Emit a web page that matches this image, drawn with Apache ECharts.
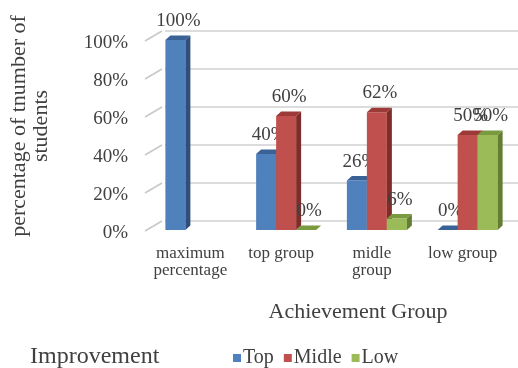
<!DOCTYPE html>
<html>
<head>
<meta charset="utf-8">
<script src="https://cdn.jsdelivr.net/npm/echarts@6/dist/echarts.min.js"></script>
<style>
  html, body { margin: 0; padding: 0; background: #fff; }
  #chart { width: 518px; height: 368px; }
</style>
</head>
<body>
<div id="chart"></div>
<script>
const categories = ["maximum\npercentage", "top group", "midle\ngroup", "low group"];
const topValues = [100, 40, 26, 0];
const midleValues = [null, 60, 62, 50];
const lowValues = [null, 0, 6, 50];
const yTicks = [0, 20, 40, 60, 80, 100];
const seriesNames = ["Top", "Midle", "Low"];

const FONT = "Liberation Serif";
const TEXT = "#404040";
// front, top, side shades for each series
const shades = [
  { front: "#4f81bd", top: "#3a6296", side: "#2f4f7a" },
  { front: "#c0504d", top: "#9c3a37", side: "#7f2d2b" },
  { front: "#9bbb59", top: "#7a9a3f", side: "#637d33" }
];
const BAR_W = 20;
const DEPTH_X = 5;
const DEPTH_Y = 4.5;

const chart = echarts.init(document.getElementById("chart"));

function toData(values) {
  return values.map((v, i) => [i, v == null ? "-" : v]);
}

function renderBar(params, api) {
  const v = api.value(1);
  if (isNaN(v)) return;
  const k = params.seriesIndex;
  const c = shades[k];
  const base = api.coord([api.value(0), 0]);
  const top = api.coord([api.value(0), v]);
  const x0 = base[0] - 1.5 * BAR_W + k * BAR_W;
  const x1 = x0 + BAR_W;
  const yb = base[1];
  const yt = top[1];
  const children = [];
  if (yb - yt > 0.5) {
    children.push({
      type: "rect",
      shape: { x: x0, y: yt, width: BAR_W, height: yb - yt },
      style: { fill: c.front }
    });
    children.push({
      type: "polygon",
      shape: { points: [[x1, yt], [x1 + DEPTH_X, yt - DEPTH_Y], [x1 + DEPTH_X, yb - DEPTH_Y], [x1, yb]] },
      style: { fill: c.side }
    });
  }
  children.push({
    type: "polygon",
    shape: { points: [[x0, yt], [x0 + DEPTH_X, yt - DEPTH_Y], [x1 + DEPTH_X, yt - DEPTH_Y], [x1, yt]] },
    style: { fill: c.top }
  });
  children.push({
    type: "text",
    style: {
      text: v + "%",
      x: (x0 + x1) / 2 + 3,
      y: yt - DEPTH_Y - 5,
      align: "center",
      verticalAlign: "bottom",
      font: "19px '" + FONT + "'",
      fill: TEXT
    }
  });
  return { type: "group", children: children };
}

function renderWallTick(params, api) {
  const p = api.coord([0, api.value(1)]);
  const x = params.coordSys.x;
  return {
    type: "line",
    shape: { x1: x - 5, y1: p[1] + 1, x2: x + 12, y2: p[1] - 9 },
    style: { stroke: "#c8c8c8", lineWidth: 1.5 }
  };
}

const barSeries = [topValues, midleValues, lowValues].map((vals, k) => ({
  name: seriesNames[k],
  type: "custom",
  xAxisIndex: 0,
  yAxisIndex: 0,
  renderItem: renderBar,
  encode: { x: 0, y: 1 },
  itemStyle: { color: shades[k].front },
  data: toData(vals),
  z: 5 + k,
  clip: false
}));

const option = {
  animation: false,
  textStyle: { fontFamily: FONT, color: TEXT },
  title: {
    text: "Improvement",
    left: 30,
    top: 345,
    padding: 0,
    textStyle: { fontFamily: FONT, fontSize: 24, fontWeight: "normal", color: TEXT }
  },
  legend: {
    data: seriesNames,
    left: 233,
    top: 348,
    padding: 0,
    icon: "rect",
    itemWidth: 8,
    itemHeight: 8,
    itemGap: 10,
    textStyle: { fontFamily: FONT, fontSize: 20, color: TEXT, padding: [0, 0, 0, -3] }
  },
  grid: [
    { left: 150, right: 5, top: 40, bottom: 138 },
    { left: 162, right: 0, top: 31, bottom: 147 }
  ],
  xAxis: [
    {
      type: "category",
      gridIndex: 0,
      data: categories,
      axisLine: { show: false },
      axisTick: { show: false },
      axisLabel: {
        interval: 0,
        margin: 15,
        fontFamily: FONT,
        fontSize: 17,
        lineHeight: 17,
        color: TEXT,
        padding: [0, 10, 0, 0]
      },
      name: "Achievement Group",
      nameLocation: "middle",
      nameGap: 71,
      nameTextStyle: { fontFamily: FONT, fontSize: 22, color: TEXT, padding: [0, 0, 0, 53] }
    },
    {
      type: "category",
      gridIndex: 1,
      data: categories,
      show: false
    }
  ],
  yAxis: [
    {
      type: "value",
      gridIndex: 0,
      min: 0,
      max: 100,
      interval: 20,
      axisLine: { show: false },
      axisTick: { show: false },
      splitLine: { show: false },
      axisLabel: {
        formatter: "{a|{value}%}",
        margin: 22,
        rich: {
          a: { fontFamily: FONT, fontSize: 19, color: TEXT, padding: [6, 0, 0, 0] }
        }
      }
    },
    {
      type: "value",
      gridIndex: 1,
      min: 0,
      max: 100,
      interval: 20,
      axisLine: { show: false },
      axisTick: { show: false },
      axisLabel: { show: false },
      splitLine: { show: true, lineStyle: { color: "#d0d0d0", width: 1.5 } },
      name: "percentage of tnumber of\nstudents",
      nameLocation: "middle",
      nameRotate: 90,
      nameGap: 113,
      nameTextStyle: { fontFamily: FONT, fontSize: 22, lineHeight: 22, color: TEXT }
    }
  ],
  series: barSeries.concat([
    {
      type: "custom",
      xAxisIndex: 0,
      yAxisIndex: 0,
      renderItem: renderWallTick,
      encode: { x: 0, y: 1 },
      data: yTicks.map((v) => [0, v]),
      z: 1,
      clip: false,
      silent: true
    }
  ])
};

chart.setOption(option);
</script>
</body>
</html>
